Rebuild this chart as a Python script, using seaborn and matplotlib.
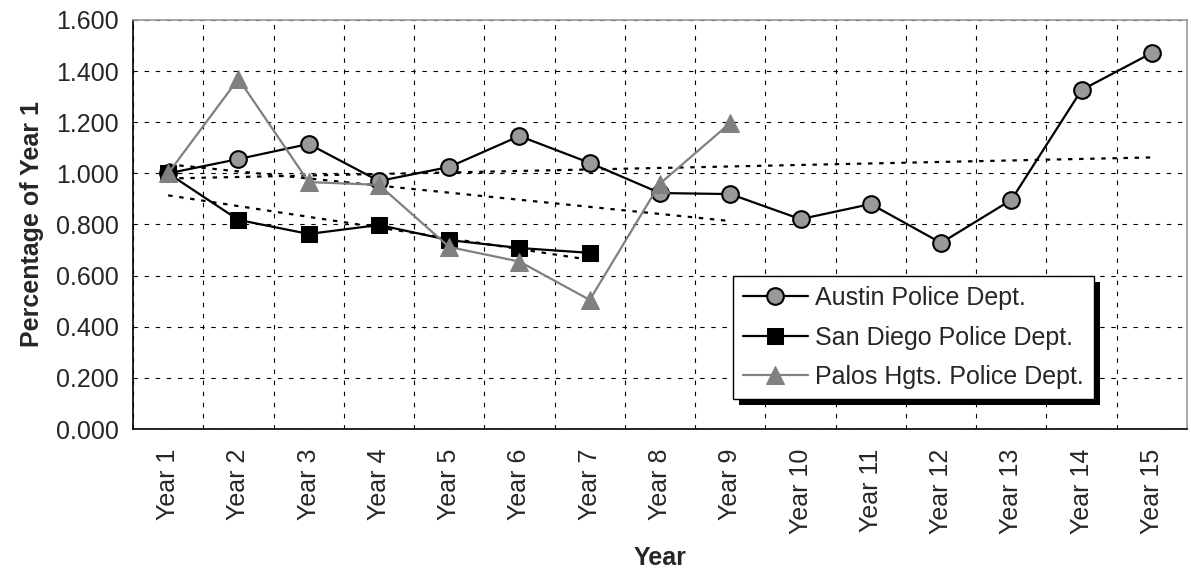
import numpy as np
import pandas as pd
import matplotlib
matplotlib.use("Agg")
import matplotlib.pyplot as plt
import matplotlib.patches as patches
import seaborn as sns
from matplotlib.ticker import FixedLocator, FormatStrFormatter

sns.set_style("white")
plt.rcParams['font.family'] = ['Liberation Sans', 'DejaVu Sans']

# ---- data ----
years = [f"Year {i}" for i in range(1, 16)]
austin = [1.000, 1.056, 1.115, 0.970, 1.025, 1.146, 1.041, 0.923, 0.919,
          0.821, 0.880, 0.728, 0.896, 1.326, 1.471]
san_diego = [1.000, 0.818, 0.763, 0.798, 0.739, 0.708, 0.689]
palos = [1.000, 1.370, 0.966, 0.955, 0.712, 0.655, 0.505, 0.960, 1.197]

series = [
    ("Austin Police Dept.", austin, dict(color="black", marker="o", markerfacecolor="#999999",
                                         markeredgecolor="black", markeredgewidth=1.5, markersize=12)),
    ("San Diego Police Dept.", san_diego, dict(color="black", marker="s", markerfacecolor="black",
                                               markeredgecolor="black", markersize=11)),
    ("Palos Hgts. Police Dept.", palos, dict(color="#808080", marker="^", markerfacecolor="#808080",
                                             markeredgecolor="#808080", markersize=13)),
]

FS = 18

fig = plt.figure(figsize=(11.91, 5.74), dpi=100)
ax = fig.add_axes([0.1117, 0.2526, 0.8849, 0.7126])

# trend lines (linear fits, dotted)
for name, vals, kw in series:
    x = np.arange(len(vals))
    sns.regplot(x=x, y=np.array(vals), scatter=False, ci=None, ax=ax,
                line_kws=dict(color="black", linestyle=(0, (2, 3)), linewidth=1.6))

for name, vals, kw in series:
    df = pd.DataFrame({"x": np.arange(len(vals)), "y": vals})
    sns.lineplot(data=df, x="x", y="y", ax=ax, label=name, linewidth=1.6, **kw)

# axes / category layout
ax.set_xlim(-0.5, len(years) - 0.5)
ax.set_ylim(0, 1.6)
ax.set_xticks(np.arange(len(years)))
ax.set_xticklabels(years, rotation=90, fontsize=FS)
ax.xaxis.set_minor_locator(FixedLocator(np.arange(-0.5, len(years), 1.0)))
ax.tick_params(axis="x", which="major", length=0, pad=14)
ax.tick_params(axis="x", which="minor", length=7, width=1, direction="out", color="black")
ax.set_yticks(np.arange(0, 1.61, 0.2))
ax.yaxis.set_major_formatter(FormatStrFormatter("%.3f"))
ax.tick_params(axis="y", which="major", length=7, width=1, direction="out", labelsize=FS, color="black")

ax.grid(False)
ax.grid(True, axis="y", which="major", color="black", linestyle=(0, (4, 6)), linewidth=0.8)
ax.grid(True, axis="x", which="minor", color="black", linestyle=(0, (4, 6)), linewidth=0.8)
ax.set_axisbelow(True)

for s in ["left", "bottom"]:
    ax.spines[s].set_color("black")
    ax.spines[s].set_linewidth(1.2)
for s in ["top", "right"]:
    ax.spines[s].set_color("#999999")
    ax.spines[s].set_linewidth(1.2)

ax.set_xlabel("Year", fontsize=FS, fontweight="bold", labelpad=9)
ax.set_ylabel("Percentage of Year 1", fontsize=FS, fontweight="bold", labelpad=8)

leg = ax.legend(loc="upper left", bbox_to_anchor=(0.569, 0.374), borderaxespad=0,
                fontsize=FS, frameon=True, fancybox=False, edgecolor="black",
                shadow=False, handlelength=2.6, framealpha=1,
                labelspacing=0.62, borderpad=0.4, handletextpad=0.3)
leg.get_frame().set_linewidth(1.0)

# solid black drop shadow behind the legend box
fig.canvas.draw()
bb = leg.get_window_extent()
shadow = patches.Rectangle((bb.x0 + 6, bb.y0 - 6), bb.width, bb.height, transform=None,
                           facecolor="black", edgecolor="none", zorder=4.9, clip_on=False)
ax.add_patch(shadow)

fig.savefig("out.png", dpi=100)
